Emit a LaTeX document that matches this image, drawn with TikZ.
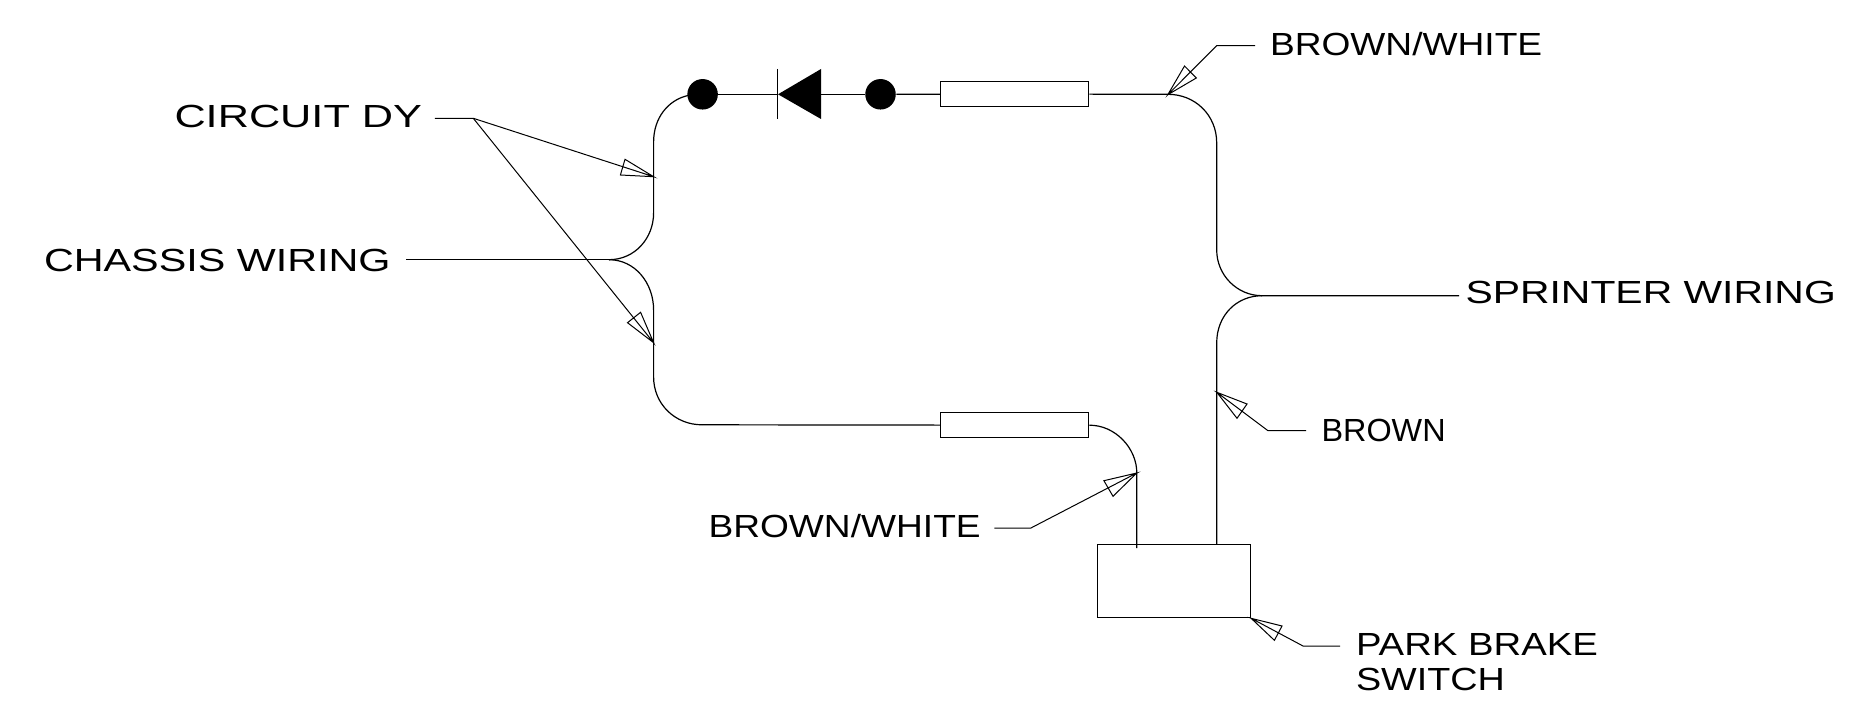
\documentclass[tikz,border=0pt]{standalone}
\usepackage{fontspec}
\usepackage{graphicx}
\setmainfont{Liberation Sans}
\tikzset{
  x=1pt,y=-1pt,
  every path/.style={line width=1.2pt,line join=miter},
  lbl/.style={anchor=base west,inner sep=0pt,outer sep=0pt,font=\fontsize{32}{34.5}\selectfont},
  dot/.style={circle,fill=black,draw=none,inner sep=0pt,minimum size=30.5pt},
  fuse/.style={rectangle,draw=black,fill=white,inner sep=0pt,minimum width=148pt,minimum height=25pt},
  swbox/.style={rectangle,draw=black,fill=white,inner sep=0pt,minimum width=153pt,minimum height=73pt},
}
\newcommand{\sx}[2]{\scalebox{#1}[1]{#2}}
\begin{document}
\begin{tikzpicture}
\useasboundingbox (0,0) rectangle (1862,719);

% junction and bend coordinates
\coordinate (cj) at (609,259.7);
\coordinate (cl) at (406,259.7);
\coordinate (tA) at (653.6,142);
\coordinate (tB) at (653.6,213);
\coordinate (bA) at (653.6,310);
\coordinate (bB) at (653.6,377);
\coordinate (bC) at (702,424.8);
\coordinate (rA) at (1168,94.3);
\coordinate (rB) at (1216.7,143);
\coordinate (rC) at (1216.7,250);
\coordinate (sj) at (1262,295.7);
\coordinate (sr) at (1459,295.7);
\coordinate (lB) at (1216.7,343);
\coordinate (mA) at (1136.8,473);

% components
\node[swbox] (sw) at (1174,581.2) {};
\coordinate (swA) at (1136.8,548);
\coordinate (swB) at (1216.7,544.7);
\coordinate (dL) at (778,94.3);
\coordinate (dT) at (821,69);
\coordinate (dM) at (821,94.3);
\coordinate (dB) at (821,119);

% wires
\draw (cl) -- (cj);
\draw (cj) .. controls (635,259.7) and (653.6,238) .. (tB) -- (tA)
      .. controls (653.6,118) and (668,100) .. (688,95.5);
\draw (cj) .. controls (635,259.7) and (653.6,283) .. (bA) -- (bB)
      .. controls (653.6,404) and (675,424.8) .. (bC);
\node[dot] (dotA) at (702.6,94.3) {};
\node[dot] (dotB) at (880.5,94.3) {};
\node[fuse] (fuseA) at (1014.7,94) {};
\node[fuse] (fuseB) at (1014.7,425.2) {};
\draw (dotA) -- (dL);
\draw (dM) -- (dotB);
\draw (dotB) -- (fuseA);
\draw (fuseA) -- (rA);
\draw (rA) .. controls (1195,94.3) and (1216.7,115) .. (rB) -- (rC)
      .. controls (1216.7,275) and (1237,295.7) .. (sj) -- (sr);
\draw (sj) .. controls (1237,295.7) and (1216.7,315) .. (lB) -- (swB);
\draw (bC) -- (fuseB);
\draw (fuseB.east) .. controls (1115,425) and (1136.8,448) .. (mA) -- (swA);

% diode
\fill (dL) -- (dT) -- (dB) -- cycle;
\draw (777.6,69) -- (777.6,119);

% labels
\node[lbl] (n1) at (174.5,128) {\sx{1.352}{CIRCUIT DY}};
\node[lbl] (n2) at (44,271.7) {\sx{1.291}{CHASSIS WIRING}};
\node[lbl] (n3) at (1270,56) {\sx{1.16}{BROWN/WHITE}};
\node[lbl] (n4) at (1465.5,303) {\sx{1.278}{SPRINTER WIRING}};
\node[lbl] (n5) at (708.5,537.7) {\sx{1.16}{BROWN/WHITE}};
\node[lbl] (n6) at (1321.5,441) {\sx{1.012}{BROWN}};
\node[lbl] (n7a) at (1356,655.7) {\sx{1.197}{PARK BRAKE}};
\node[lbl] (n7b) at (1356,690) {\sx{1.18}{SWITCH}};

% leaders
\coordinate (a1k) at (434.8,118.3); \coordinate (a1j) at (473.3,118.3);
\coordinate (a1t) at (653.6,176.7); \coordinate (a2t) at (653.6,342.7);
\draw[line width=1pt] (a1k) -- (a1j) -- (a1t) -- (625,159.3) -- (620.4,175) -- (a1t);
\draw[line width=1pt] (a1j) -- (a2t) -- (640.6,312.3) -- (627.5,322.7) -- (a2t);

\coordinate (a3k) at (1255,45.7); \coordinate (a3j) at (1216.6,45.7);
\coordinate (a3t) at (1167.8,94.7);
\draw[line width=1pt] (a3k) -- (a3j) -- (a3t) -- (1184.5,66) -- (1196.3,78) -- (a3t);

\coordinate (a4k) at (1306,430.7); \coordinate (a4j) at (1268,430.7);
\coordinate (a4t) at (1216.8,392.3);
\draw[line width=1pt] (a4k) -- (a4j) -- (a4t) -- (1247,404) -- (1237,418.3) -- (a4t);

\coordinate (a5k) at (994.4,528); \coordinate (a5j) at (1030.9,528);
\draw[line width=1pt] (a5k) -- (a5j) -- (mA) -- (1103.9,480.7) -- (1113,496.3) -- (mA);

\coordinate (a6k) at (1340,646); \coordinate (a6j) at (1303,646);
\draw[line width=1pt] (a6k) -- (a6j) -- (sw.south east) -- (1282,626) -- (1274.4,640.3) -- (sw.south east);
\end{tikzpicture}
\end{document}
